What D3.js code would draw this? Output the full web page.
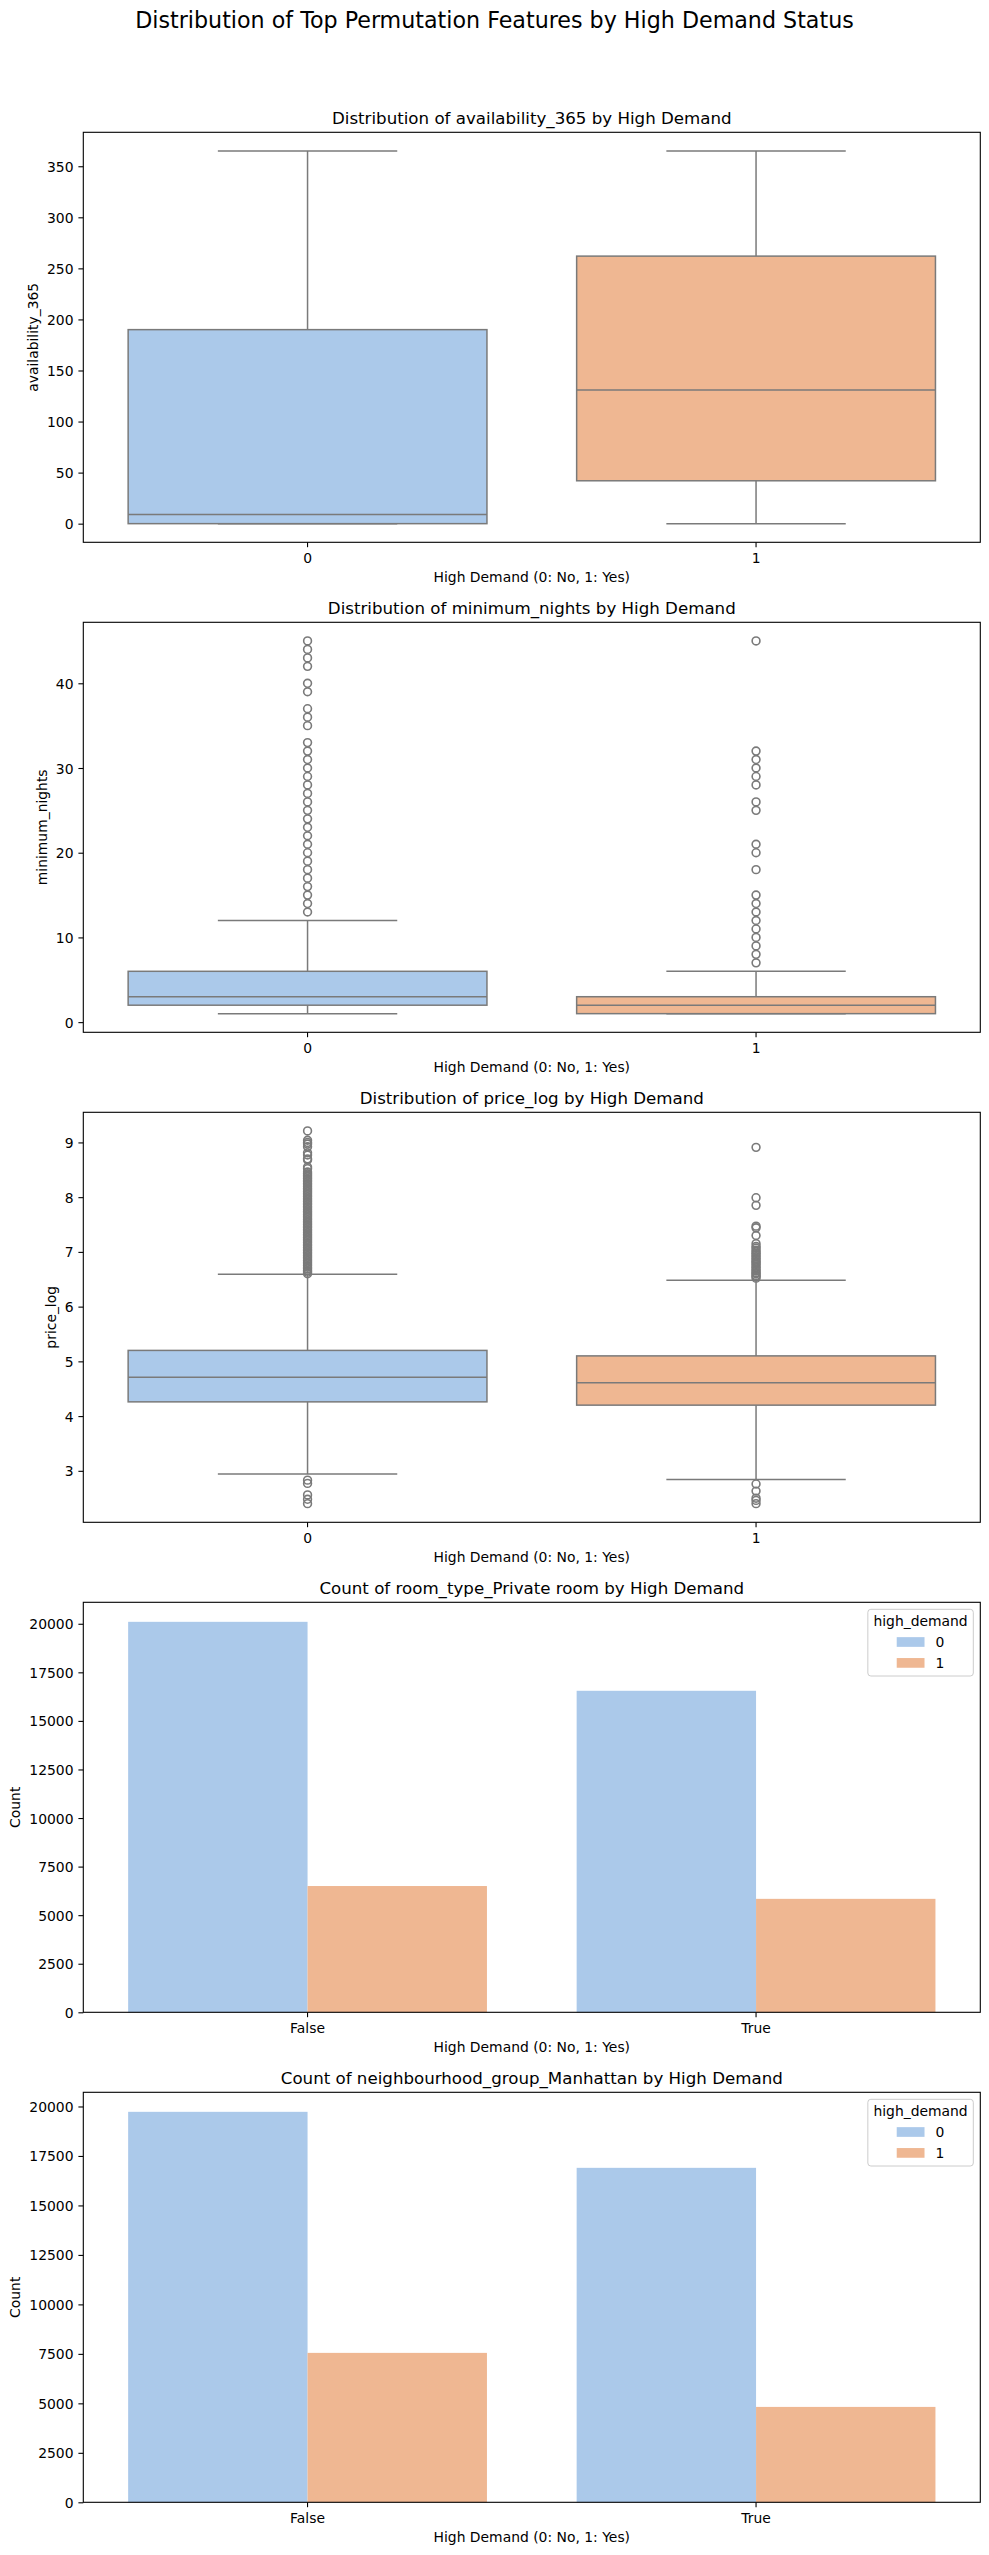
<!DOCTYPE html>
<html>
<head>
<meta charset="utf-8">
<script src="https://cdn.jsdelivr.net/npm/d3@7"></script>
<style>
  body { margin: 0; background: #fff; }
</style>
</head>
<body>
<div id="chart"></div>
<script>
// Data
const groups = ["0", "1"];
const countCategories = ["False", "True"];

// box stats per group: [whiskerLow, q1, median, q3, whiskerHigh]
const availabilityStats = [[0, 0, 9, 190, 365], [0, 42, 131, 262, 365]];
const availabilityFliers = [[], []];

const nightsStats = [[1, 2, 3, 6, 12], [1, 1, 2, 3, 6]];
const nightsFliers0 = [13, 14, 15, 16, 17, 18, 19, 20, 21, 22, 23, 24, 25, 26, 27, 28, 29, 30, 31, 32, 33,
  35, 36, 37, 39, 40, 42, 43, 44, 45];
const nightsFliers1 = [7, 8, 9, 10, 11, 12, 13, 14, 15, 18, 20, 21, 25, 26, 28, 29, 30, 31, 32, 45];

const priceStats = [[2.94, 4.26, 4.71, 5.2, 6.59], [2.84, 4.2, 4.61, 5.1, 6.48]];
const priceFliers0 = [2.83, 2.77, 2.56, 2.48, 2.40,
  9.21, 9.04, 9.0, 8.97, 8.92, 8.81, 8.77, 8.7, 8.68, 8.55, 8.52, 8.46, 8.43, 8.4, 8.37, 8.34,
  8.31, 8.28, 8.25, 8.22, 8.19, 8.16, 8.13, 8.1, 8.07, 8.04, 8.01, 7.98, 7.95, 7.92, 7.89, 7.86,
  7.83, 7.8, 7.77, 7.74, 7.71, 7.68, 7.65, 7.62, 7.59, 7.56, 7.53, 7.5, 7.47, 7.44, 7.41, 7.38,
  7.35, 7.32, 7.29, 7.26, 7.23, 7.2, 7.17, 7.14, 7.11, 7.08, 7.05, 7.02, 6.99, 6.96, 6.93, 6.9,
  6.87, 6.84, 6.81, 6.78, 6.75, 6.72, 6.69, 6.66, 6.63, 6.6];
const priceFliers1 = [2.76, 2.63, 2.50, 2.46, 2.40,
  8.91, 7.99, 7.85, 7.47, 7.44, 7.30, 7.15, 7.1, 7.07, 7.03, 7.0, 6.97, 6.94, 6.91, 6.88, 6.85,
  6.82, 6.8, 6.77, 6.74, 6.71, 6.68, 6.65, 6.62, 6.6, 6.57, 6.55, 6.52];

// counts per category (False, True) for each high_demand group
const roomTypeCounts0 = [20100, 16550];
const roomTypeCounts1 = [6500, 5840];
const manhattanCounts0 = [19730, 16900];
const manhattanCounts1 = [7550, 4820];

const availabilityTicks = [0, 50, 100, 150, 200, 250, 300, 350];
const nightsTicks = [0, 10, 20, 30, 40];
const priceTicks = [3, 4, 5, 6, 7, 8, 9];
const countTicks = [0, 2500, 5000, 7500, 10000, 12500, 15000, 17500, 20000];

// Colors (seaborn pastel, desaturated as seaborn does for boxes/bars)
const fills = ["#abc9ea", "#efb792"];
const lineColor = "#7a7a7a";
const textColor = "#000";

// Layout
const W = 989, H = 2555;
const axLeft = 83.3, axRight = 980.3;
const firstTop = 132.3, panelStep = 490, panelH = 410;
const fsTick = 13.9, fsTitle = 16.67, fsSup = 22.2;
const font = "'DejaVu Sans', sans-serif";

const svg = d3.select("#chart").append("svg")
  .attr("width", W)
  .attr("height", H)
  .attr("font-family", font);

svg.append("rect").attr("width", W).attr("height", H).attr("fill", "#fff");

svg.append("text")
  .attr("x", W / 2)
  .attr("y", 28)
  .attr("text-anchor", "middle")
  .attr("font-size", fsSup)
  .attr("fill", textColor)
  .text("Distribution of Top Permutation Features by High Demand Status");

function makePanel(i, cats, yDomain) {
  const top = firstTop + i * panelStep;
  const bottom = top + panelH;
  const x = d3.scaleBand()
    .domain(cats)
    .range([axLeft, axRight])
    .paddingInner(0.2)
    .paddingOuter(0.1);
  const y = d3.scaleLinear().domain(yDomain).range([bottom, top]);
  const g = svg.append("g");
  return { g, x, y, top, bottom };
}

function finishPanel(p, title, ylabel, yTicks) {
  const { g, x, y, top, bottom } = p;

  const yAxis = g.append("g")
    .attr("transform", `translate(${axLeft},0)`)
    .call(d3.axisLeft(y).tickValues(yTicks).tickFormat(d3.format("d")).tickSize(4.9).tickPadding(4.9));
  const xAxis = g.append("g")
    .attr("transform", `translate(0,${bottom})`)
    .call(d3.axisBottom(x).tickSize(4.9).tickPadding(4.9));

  [yAxis, xAxis].forEach(a => {
    a.select(".domain").remove();
    a.attr("font-family", font).attr("font-size", fsTick);
    a.selectAll("line").attr("stroke", textColor).attr("stroke-width", 1.1);
    a.selectAll("text").attr("fill", textColor);
  });
  // baseline placement like matplotlib
  xAxis.selectAll("text").attr("dy", null).attr("y", 20.4);
  yAxis.selectAll("text").attr("dy", "0.36em");

  // frame (spines)
  g.append("rect")
    .attr("x", axLeft)
    .attr("y", top)
    .attr("width", axRight - axLeft)
    .attr("height", bottom - top)
    .attr("fill", "none")
    .attr("stroke", textColor)
    .attr("stroke-width", 1.1);

  g.append("text")
    .attr("x", (axLeft + axRight) / 2)
    .attr("y", top - 8.3)
    .attr("text-anchor", "middle")
    .attr("font-size", fsTitle)
    .attr("fill", textColor)
    .text(title);

  g.append("text")
    .attr("x", (axLeft + axRight) / 2)
    .attr("y", bottom + 40)
    .attr("text-anchor", "middle")
    .attr("font-size", fsTick)
    .attr("fill", textColor)
    .text("High Demand (0: No, 1: Yes)");

  let maxW = 0;
  yAxis.selectAll("text").each(function () {
    maxW = Math.max(maxW, this.getComputedTextLength());
  });
  const lx = axLeft - 9.8 - maxW - 8.9;
  const ly = (top + bottom) / 2;
  g.append("text")
    .attr("transform", `translate(${lx},${ly}) rotate(-90)`)
    .attr("text-anchor", "middle")
    .attr("font-size", fsTick)
    .attr("fill", textColor)
    .text(ylabel);
}

function paddedExtent(values) {
  const [lo, hi] = d3.extent(values);
  const m = (hi - lo) * 0.05;
  return [lo - m, hi + m];
}

function boxPanel(i, feature, stats, fliers, ticks) {
  const all = stats.flat().concat(fliers.flat());
  const p = makePanel(i, groups, paddedExtent(all));
  const { g, x, y } = p;
  const bw = x.bandwidth();

  groups.forEach((grp, k) => {
    const [wLo, q1, med, q3, wHi] = stats[k];
    const cx = x(grp) + bw / 2;
    const bg = g.append("g")
      .attr("stroke", lineColor)
      .attr("stroke-width", 1.5);

    bg.append("rect")
      .attr("x", x(grp))
      .attr("y", y(q3))
      .attr("width", bw)
      .attr("height", y(q1) - y(q3))
      .attr("fill", fills[k]);

    bg.selectAll("line.whisker")
      .data([[q3, wHi], [q1, wLo]])
      .join("line")
      .attr("class", "whisker")
      .attr("x1", cx).attr("x2", cx)
      .attr("y1", d => y(d[0]))
      .attr("y2", d => y(d[1]));

    bg.selectAll("line.cap")
      .data([wLo, wHi])
      .join("line")
      .attr("class", "cap")
      .attr("x1", cx - bw / 4).attr("x2", cx + bw / 4)
      .attr("y1", d => y(d)).attr("y2", d => y(d));

    bg.append("line")
      .attr("x1", x(grp)).attr("x2", x(grp) + bw)
      .attr("y1", y(med)).attr("y2", y(med));

    bg.selectAll("circle")
      .data(fliers[k])
      .join("circle")
      .attr("cx", cx)
      .attr("cy", d => y(d))
      .attr("r", 3.9)
      .attr("fill", "none")
      .attr("stroke-width", 1.6);
  });

  finishPanel(p, `Distribution of ${feature} by High Demand`, feature, ticks);
}

function countPanel(i, feature, counts0, counts1, ticks) {
  const maxC = d3.max(counts0.concat(counts1));
  const p = makePanel(i, countCategories, [0, maxC * 1.05]);
  const { g, x, y, top } = p;
  const xHue = d3.scaleBand().domain(groups).range([0, x.bandwidth()]);
  const rows = countCategories.map((c, j) => ({ cat: c, values: [counts0[j], counts1[j]] }));

  g.selectAll("g.cat")
    .data(rows)
    .join("g")
    .attr("class", "cat")
    .attr("transform", d => `translate(${x(d.cat)},0)`)
    .selectAll("rect")
    .data(d => d.values.map((v, k) => ({ grp: groups[k], v, k })))
    .join("rect")
    .attr("x", d => xHue(d.grp))
    .attr("y", d => y(d.v))
    .attr("width", xHue.bandwidth())
    .attr("height", d => y(0) - y(d.v))
    .attr("fill", d => fills[d.k]);

  finishPanel(p, `Count of ${feature} by High Demand`, "Count", ticks);

  // legend, upper right
  const leg = g.append("g");
  const frame = leg.append("rect");
  const title = leg.append("text")
    .attr("font-size", fsTick)
    .attr("fill", textColor)
    .attr("text-anchor", "middle")
    .text("high_demand");
  const tw = title.node().getComputedTextLength();
  const fw = tw + 11.2;
  const fx = axRight - 7 - fw;
  const fy = top + 7;
  frame.attr("x", fx).attr("y", fy)
    .attr("width", fw).attr("height", 66.7)
    .attr("rx", 3)
    .attr("fill", "#fff").attr("fill-opacity", 0.8)
    .attr("stroke", "#cccccc").attr("stroke-width", 1);
  title.attr("x", fx + fw / 2).attr("y", top + 23.2);

  const entryW = 27.8 + 11.1 + 8.8;
  const ex = fx + fw / 2 - entryW / 2;
  groups.forEach((grp, k) => {
    const cy = top + 39.7 + k * 20.9;
    leg.append("rect")
      .attr("x", ex).attr("y", cy - 4.85)
      .attr("width", 27.8).attr("height", 9.7)
      .attr("fill", fills[k]);
    leg.append("text")
      .attr("x", ex + 27.8 + 11.1)
      .attr("y", cy + 5)
      .attr("font-size", fsTick)
      .attr("fill", textColor)
      .text(grp);
  });
}

boxPanel(0, "availability_365", availabilityStats, availabilityFliers, availabilityTicks);
boxPanel(1, "minimum_nights", nightsStats, [nightsFliers0, nightsFliers1], nightsTicks);
boxPanel(2, "price_log", priceStats, [priceFliers0, priceFliers1], priceTicks);
countPanel(3, "room_type_Private room", roomTypeCounts0, roomTypeCounts1, countTicks);
countPanel(4, "neighbourhood_group_Manhattan", manhattanCounts0, manhattanCounts1, countTicks);
</script>
</body>
</html>
